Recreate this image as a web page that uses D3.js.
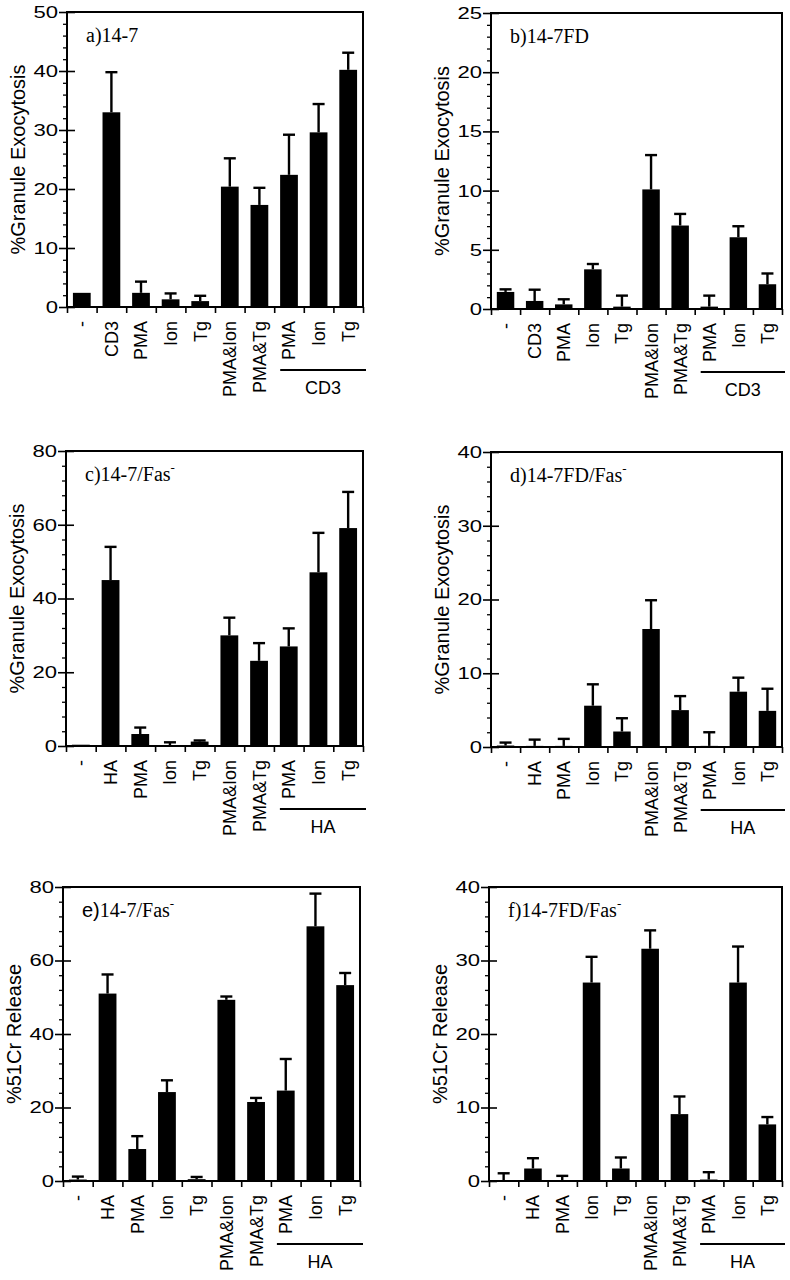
<!DOCTYPE html>
<html><head><meta charset="utf-8">
<script src="https://cdn.jsdelivr.net/npm/d3@7"></script>
<style>body{margin:0;background:#fff} svg{display:block}</style>
</head><body>
<svg id="chart" width="790" height="1280"></svg>
<script>
// ---------- data ----------
const categoriesCD3 = ["-","CD3","PMA","Ion","Tg","PMA&Ion","PMA&Tg","PMA","Ion","Tg"];
const categoriesHA  = ["-","HA","PMA","Ion","Tg","PMA&Ion","PMA&Tg","PMA","Ion","Tg"];

const valuesA = [2.4, 33.0, 2.4, 1.3, 1.0, 20.4, 17.3, 22.4, 29.6, 40.2];
const errorsA = [0, 6.8, 1.9, 1.0, 0.9, 4.8, 2.9, 6.8, 4.8, 2.9];
const valuesB = [1.44, 0.68, 0.39, 3.35, 0.2, 10.1, 7.05, 0.2, 6.06, 2.09];
const errorsB = [0.22, 0.95, 0.43, 0.45, 0.93, 2.9, 0.98, 0.93, 0.93, 0.91];
const valuesC = [0.35, 45.0, 3.25, 0.2, 1.2, 30.0, 23.1, 27.0, 47.1, 59.1];
const errorsC = [0, 9.0, 1.75, 0.8, 0.3, 4.8, 4.8, 4.9, 10.7, 9.8];
const valuesD = [0.2, 0.15, 0.15, 5.6, 2.1, 16.0, 5.0, 0.15, 7.5, 4.9];
const errorsD = [0.4, 0.85, 0.95, 2.9, 1.8, 3.9, 1.9, 1.85, 1.9, 3.0];
const valuesE = [0.4, 51.0, 8.7, 24.2, 0.5, 49.3, 21.5, 24.6, 69.3, 53.3];
const errorsE = [0.8, 5.2, 3.5, 3.2, 0.6, 0.9, 1.1, 8.6, 8.9, 3.3];
const valuesF = [0.1, 1.7, 0.1, 27.0, 1.7, 31.6, 9.1, 0.2, 27.0, 7.7];
const errorsF = [0.95, 1.4, 0.6, 3.5, 1.5, 2.5, 2.4, 1.0, 4.9, 1.0];

const yTicksA = [0,10,20,30,40,50];
const yTicksB = [0,5,10,15,20,25];
const yTicks80 = [0,20,40,60,80];
const yTicks40 = [0,10,20,30,40];

const titleGranule = "%Granule Exocytosis";
const titleCr = "%51Cr Release";

// ---------- panel layout (positions only) ----------
const panels = [
  {pre:"a)", name:"14-7", sup:false, preSans:false, cats:categoriesCD3, vals:valuesA, errs:errorsA, ticks:yTicksA, minor:2, ytitle:titleGranule, group:"CD3", L:67, T:12, R:363, B:307},
  {pre:"b)", name:"14-7FD", sup:false, preSans:false, cats:categoriesCD3, vals:valuesB, errs:errorsB, ticks:yTicksB, minor:1, ytitle:titleGranule, group:"CD3", L:491, T:13, R:782, B:309},
  {pre:"c)", name:"14-7/Fas", sup:true, preSans:false, cats:categoriesHA, vals:valuesC, errs:errorsC, ticks:yTicks80, minor:4, ytitle:titleGranule, group:"HA", L:66, T:451, R:363, B:746},
  {pre:"d)", name:"14-7FD/Fas", sup:true, preSans:false, cats:categoriesHA, vals:valuesD, errs:errorsD, ticks:yTicks40, minor:2, ytitle:titleGranule, group:"HA", L:491, T:452, R:782, B:747},
  {pre:"e)", name:"14-7/Fas", sup:true, preSans:true, cats:categoriesHA, vals:valuesE, errs:errorsE, ticks:yTicks80, minor:4, ytitle:titleCr, group:"HA", L:63, T:887, R:360, B:1181},
  {pre:"f)", name:"14-7FD/Fas", sup:true, preSans:false, cats:categoriesHA, vals:valuesF, errs:errorsF, ticks:yTicks40, minor:2, ytitle:titleCr, group:"HA", L:489, T:887, R:782, B:1181}
];

const SANS = "'Liberation Sans', Arial, Helvetica, sans-serif";
const SERIF = "'Liberation Serif', 'Times New Roman', serif";
const svg = d3.select("#chart");
const TICK_STRETCH = 1.3;

panels.forEach(p => {
  const w = p.R - p.L, h = p.B - p.T;
  const g = svg.append("g").attr("transform", `translate(${p.L},${p.T})`);
  const idx = d3.range(p.cats.length);
  const x = d3.scaleBand().domain(idx).range([0, w]).padding(0);
  const xb = d3.scaleLinear().domain([0, p.cats.length]).range([0, w]);
  const ymax = p.ticks[p.ticks.length - 1];
  const y = d3.scaleLinear().domain([0, ymax]).range([h, 0]);
  const minorTicks = d3.range(0, ymax + 1e-9, p.minor).filter(v => !p.ticks.includes(v));

  // bars
  const bw = x.bandwidth() * 0.6;
  g.selectAll("rect.bar").data(idx).join("rect")
    .attr("x", i => x(i) + (x.bandwidth() - bw) / 2)
    .attr("y", i => y(p.vals[i]))
    .attr("width", bw)
    .attr("height", i => h - y(p.vals[i]))
    .attr("fill", "#000");

  // error bars (upper only)
  const eb = idx.filter(i => p.errs[i] > 0);
  g.selectAll("line.stem").data(eb).join("line")
    .attr("x1", i => x(i) + x.bandwidth() / 2).attr("x2", i => x(i) + x.bandwidth() / 2)
    .attr("y1", i => y(p.vals[i])).attr("y2", i => y(p.vals[i] + p.errs[i]))
    .attr("stroke", "#000").attr("stroke-width", 2.4);
  g.selectAll("line.cap").data(eb).join("line")
    .attr("x1", i => x(i) + x.bandwidth() / 2 - 6).attr("x2", i => x(i) + x.bandwidth() / 2 + 6)
    .attr("y1", i => y(p.vals[i] + p.errs[i])).attr("y2", i => y(p.vals[i] + p.errs[i]))
    .attr("stroke", "#000").attr("stroke-width", 2.4);

  // y axis: major ticks crossing the axis, minor ticks outside
  const ya = g.append("g").call(d3.axisLeft(y).tickValues(p.ticks).tickSize(8).tickPadding(1));
  ya.select(".domain").remove();
  ya.selectAll("line").attr("stroke-width", 1.6);
  ya.selectAll("text").attr("font-family", SANS).attr("font-size", 17).attr("fill", "#000")
    .attr("transform", `scale(${TICK_STRETCH},1)`).attr("x", -9 / TICK_STRETCH);
  const yi = g.append("g").call(d3.axisRight(y).tickValues(p.ticks).tickSize(8).tickFormat(""));
  yi.select(".domain").remove();
  yi.selectAll("line").attr("stroke-width", 1.6);
  const ym = g.append("g").call(d3.axisLeft(y).tickValues(minorTicks).tickSize(4).tickFormat(""));
  ym.select(".domain").remove();
  ym.selectAll("line").attr("stroke-width", 1.3);

  // x ticks at category boundaries
  const xt = g.append("g").attr("transform", `translate(0,${h})`)
    .call(d3.axisBottom(xb).tickValues(d3.range(p.cats.length + 1)).tickSize(6).tickFormat(""));
  xt.select(".domain").remove();
  xt.selectAll("line").attr("stroke-width", 1.6);

  // rotated category labels
  const xl = g.append("g").attr("transform", `translate(0,${h})`)
    .call(d3.axisBottom(x).tickSize(0).tickFormat(i => p.cats[i]));
  xl.select(".domain").remove();
  xl.selectAll("text")
    .attr("transform", "rotate(-90)")
    .attr("x", -14).attr("y", 0).attr("dy", "0.36em")
    .attr("text-anchor", "end")
    .attr("font-family", SANS).attr("font-size", 18).attr("fill", "#000");

  // frame
  g.append("rect").attr("x", 0).attr("y", 0).attr("width", w).attr("height", h)
    .attr("fill", "none").attr("stroke", "#000").attr("stroke-width", 2);

  // group bracket line + label
  const gx1 = x(7) + 6, gx2 = w + 3, gy = h + 63;
  g.append("line").attr("x1", gx1).attr("x2", gx2).attr("y1", gy).attr("y2", gy)
    .attr("stroke", "#000").attr("stroke-width", 2);
  g.append("text").attr("x", (gx1 + gx2) / 2).attr("y", gy + 24)
    .attr("text-anchor", "middle").attr("font-family", SANS).attr("font-size", 18)
    .text(p.group);

  // y title
  g.append("text").attr("transform", `translate(-49,${h / 2}) rotate(-90)`)
    .attr("text-anchor", "middle").attr("dy", "0.35em")
    .attr("font-family", SANS).attr("font-size", 20).text(p.ytitle);

  // panel title
  const t = g.append("text").attr("x", 19).attr("y", 30)
    .attr("font-family", SERIF).attr("font-size", 20);
  t.append("tspan").attr("font-family", p.preSans ? SANS : SERIF).text(p.pre);
  t.append("tspan").text(p.name);
  if (p.sup) t.append("tspan").attr("dy", -9).attr("font-size", 13).text("-");
});
</script>
</body></html>
